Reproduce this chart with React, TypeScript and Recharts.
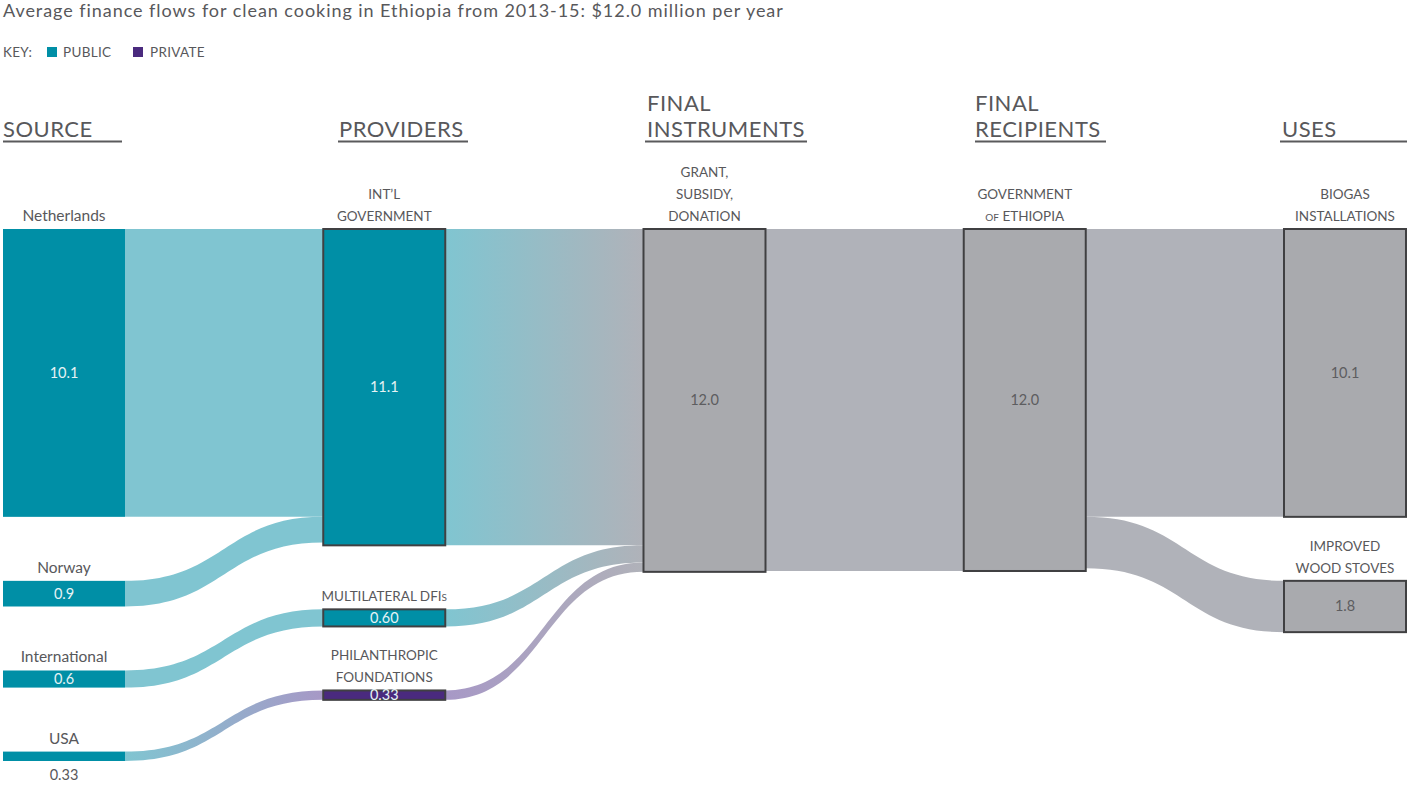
import React from 'react'
import { Sankey } from 'recharts'

const TITLE = 'Average finance flows for clean cooking in Ethiopia from 2013-15: $12.0 million per year'
const KEY_LABELS = ['PUBLIC', 'PRIVATE']
const COLUMN_TITLES = [['SOURCE'], ['PROVIDERS'], ['FINAL', 'INSTRUMENTS'], ['FINAL', 'RECIPIENTS'], ['USES']]

// node labels (lowercase inside caps labels = small caps)
const NODE_LABELS = [
  ['Netherlands'], ['Norway'], ['International'], ['USA'],
  ['INT’L', 'GOVERNMENT'], ['MULTILATERAL DFIs'], ['PHILANTHROPIC', 'FOUNDATIONS'],
  ['GRANT,', 'SUBSIDY,', 'DONATION'], ['GOVERNMENT', 'of ETHIOPIA'],
  ['BIOGAS', 'INSTALLATIONS'], ['IMPROVED', 'WOOD STOVES'],
]
const NODE_TOTALS = ['10.1', '0.9', '0.6', '0.33', '11.1', '0.60', '0.33', '12.0', '12.0', '10.1', '1.8']
const NODE_SECTOR = ['public', 'public', 'public', 'public', 'public', 'public', 'private', 'other', 'other', 'other', 'other']

const LINK_FROM = [0, 1, 2, 3, 4, 5, 6, 7, 8, 8]
const LINK_TO = [4, 4, 5, 6, 7, 7, 7, 8, 9, 10]
const LINK_VALUES = [10.1, 0.9, 0.6, 0.33, 11.1, 0.6, 0.33, 12.0, 10.1, 1.8]

const FONT = 'Lato, "Open Sans", sans-serif'
const INK = '#58585b'
const NODE_FILL: Record<string, string> = { public: '#008fa6', private: '#4a2a7e', other: '#a9aaae' }
const LINK_FILL: Record<string, string> = { public: '#80c5d1', private: '#a798c6', other: '#b0b2b9' }

// column header placement (reference layout)
const COL_X = [3, 339, 647, 975, 1282]
const COL_RULE = [[3, 122], [338, 468], [645, 807], [975, 1106], [1280, 1407]]

const data = {
  nodes: NODE_LABELS.map((l, i) => ({ name: l.join(' '), sector: NODE_SECTOR[i] })),
  links: LINK_VALUES.map((v, i) => ({ source: LINK_FROM[i], target: LINK_TO[i], value: v })),
}

function smallCaps(line: string, size: number) {
  const parts = line.match(/[a-z]+|[^a-z]+/g) ?? [line]
  return parts.map((p, i) =>
    /^[a-z]+$/.test(p)
      ? <tspan key={i} fontSize={size * 0.74}>{p.toUpperCase()}</tspan>
      : <tspan key={i}>{p}</tspan>,
  )
}

function renderNode(props: any) {
  const { x, y, width, height, index, payload } = props
  const sector = NODE_SECTOR[index]
  const lines = NODE_LABELS[index]
  const first = payload.depth === 0
  const size = first ? 15.5 : 13.5
  const cx = x + width / 2
  const below = first && height < 12
  const valueColor = sector === 'other' ? '#5d5d60' : '#e6f3f5'
  return (
    <g key={`n-${index}`}>
      <rect x={x} y={y} width={width} height={height} fill={NODE_FILL[sector]}
        stroke={first ? 'none' : '#404042'} strokeWidth={2} />
      {lines.map((l, i) => (
        <text key={i} x={cx} y={y - 8 - (lines.length - 1 - i) * 22} textAnchor="middle"
          fontFamily={FONT} fontSize={size} fill={INK}>
          {first ? l : smallCaps(l, size)}
        </text>
      ))}
      <text x={cx} y={below ? y + height + 19 : y + height / 2 + 5} textAnchor="middle"
        fontFamily={FONT} fontSize={14.5} fill={below ? INK : valueColor}>
        {NODE_TOTALS[index]}
      </text>
    </g>
  )
}

function renderLink(props: any) {
  const { sourceX, targetX, sourceY, targetY, sourceControlX, targetControlX, linkWidth, index } = props
  const h = linkWidth / 2
  const from = LINK_FILL[NODE_SECTOR[LINK_FROM[index]]]
  const to = LINK_FILL[NODE_SECTOR[LINK_TO[index]]]
  const d = `M${sourceX},${sourceY - h} C${sourceControlX},${sourceY - h} ${targetControlX},${targetY - h} ${targetX},${targetY - h}`
    + ` L${targetX},${targetY + h} C${targetControlX},${targetY + h} ${sourceControlX},${sourceY + h} ${sourceX},${sourceY + h} Z`
  const id = `lg-${index}`
  return (
    <g key={`l-${index}`}>
      <defs>
        <linearGradient id={id} gradientUnits="userSpaceOnUse" x1={sourceX} y1={0} x2={targetX} y2={0}>
          <stop offset="0%" stopColor={from} />
          <stop offset="100%" stopColor={to} />
        </linearGradient>
      </defs>
      <path d={d} fill={`url(#${id})`} stroke="none" />
    </g>
  )
}

export default function App() {
  return (
    <div style={{ position: 'absolute', left: 0, top: 0, width: 1407, height: 785, background: '#fff' }}>
      <div style={{ position: 'absolute', left: 0, top: 0 }}>
        <Sankey
          width={1407}
          height={785}
          data={data}
          nodeWidth={122}
          nodePadding={64}
          iterations={0}
          linkCurvature={0.5}
          margin={{ top: 229, right: 1, bottom: 24, left: 3 }}
          node={renderNode}
          link={renderLink}
        />
      </div>
      <svg width={1407} height={230} style={{ position: 'absolute', left: 0, top: 0, pointerEvents: 'none' }}>
        <text x={3} y={17} fontFamily={FONT} fontSize={18} letterSpacing={0.95} fill={INK}>{TITLE}</text>
        <text x={3} y={57} fontFamily={FONT} fontSize={13.5} letterSpacing={0.3} fill={INK}>KEY:</text>
        <rect x={47} y={47} width={10} height={10} fill={NODE_FILL.public} />
        <text x={63} y={57} fontFamily={FONT} fontSize={13.5} letterSpacing={0.3} fill={INK}>{KEY_LABELS[0]}</text>
        <rect x={133} y={47} width={10} height={10} fill={NODE_FILL.private} />
        <text x={150} y={57} fontFamily={FONT} fontSize={13.5} letterSpacing={0.3} fill={INK}>{KEY_LABELS[1]}</text>
        {COLUMN_TITLES.map((lines, c) => (
          <g key={c}>
            {lines.map((l, i) => (
              <text key={i} x={COL_X[c]} y={137 - (lines.length - 1 - i) * 26} fontFamily={FONT}
                fontSize={22} fill={INK} letterSpacing={0.5}>{l}</text>
            ))}
            <line x1={COL_RULE[c][0]} x2={COL_RULE[c][1]} y1={141.5} y2={141.5} stroke="#5a5a5c" strokeWidth={2.2} />
          </g>
        ))}
      </svg>
    </div>
  )
}
